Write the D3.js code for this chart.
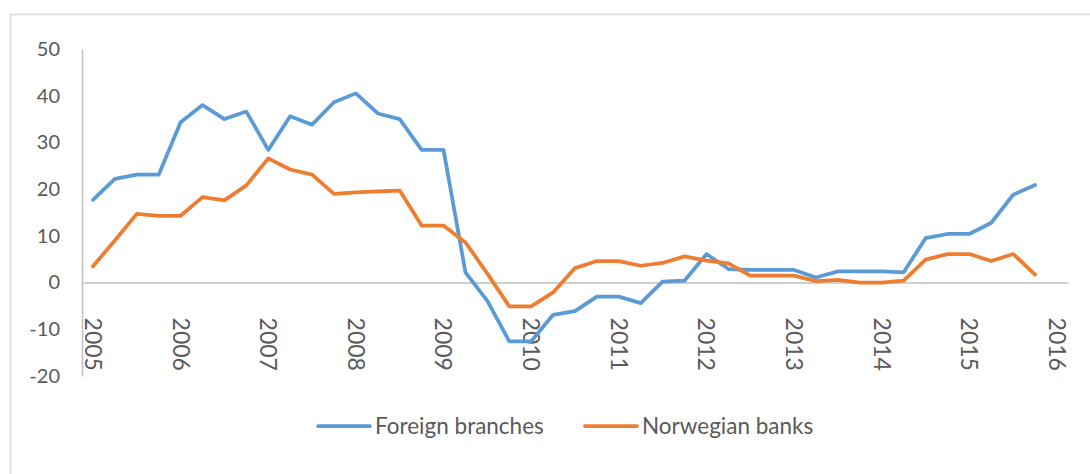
<!DOCTYPE html>
<html><head><meta charset="utf-8">
<script src="https://cdn.jsdelivr.net/npm/d3@7"></script>
<style>html,body{margin:0;padding:0;background:#fff;}svg{display:block;}</style>
</head><body>
<svg id="chart" width="1090" height="474"></svg>
<script>
const years = ["2005","2006","2007","2008","2009","2010","2011","2012","2013","2014","2015","2016"];
const quarters = [];
for (const y of years) for (const q of ["Q1","Q2","Q3","Q4"]) quarters.push(y + q);
const categories = quarters.slice(0, 45); // 2005Q1 .. 2016Q1
const foreignBranches = [17.7,22.2,23.1,23.1,34.3,38.0,35.0,36.6,28.4,35.6,33.8,38.6,40.5,36.2,35.0,28.4,28.4,2.2,-3.9,-12.6,-12.6,-6.9,-6.1,-3.0,-3.0,-4.4,0.2,0.4,6.1,2.9,2.7,2.7,2.7,1.1,2.4,2.4,2.4,2.2,9.5,10.4,10.4,12.8,18.8,20.9];
const norwegianBanks = [3.5,9.0,14.7,14.3,14.3,18.3,17.6,20.8,26.6,24.2,23.1,19.0,19.3,19.5,19.7,12.2,12.2,8.6,1.9,-5.1,-5.1,-2.1,3.1,4.6,4.6,3.6,4.2,5.6,4.7,4.1,1.5,1.5,1.5,0.3,0.6,0.0,0.0,0.4,4.9,6.1,6.1,4.6,6.1,1.7];
const yTicks = [-20,-10,0,10,20,30,40,50];
const seriesNames = ["Foreign branches","Norwegian banks"];
const seriesColors = ["#5B9BD5","#ED7D31"];

const svg = d3.select("#chart");
const font = "Lato, 'Open Sans', sans-serif";
const textColor = "#595959";

svg.append("rect").attr("x",10.5).attr("y",14.5).attr("width",1200).attr("height",600)
  .attr("fill","none").attr("stroke","#d9d9d9").attr("stroke-width",1.5);

const x = d3.scaleBand().domain(categories).range([82,1068]).padding(0);
const y = d3.scaleLinear().domain([-20,50]).range([376,49]);

// y axis
const yAxis = d3.axisLeft(y).tickValues(yTicks).tickSize(0).tickPadding(22).tickFormat(d=>String(d));
const gy = svg.append("g").attr("transform","translate(82,0)").call(yAxis);
gy.select(".domain").attr("stroke","#bfbfbf").attr("stroke-width",1.5);
gy.selectAll("text").attr("font-family",font).attr("font-size",20).attr("fill",textColor);

// x axis at zero
const xAxis = d3.axisBottom(x).tickValues(categories.filter((d,i)=>i%4===0)).tickSize(0).tickFormat(d=>d.slice(0,4));
const gx = svg.append("g").attr("transform",`translate(0,${y(0)})`).call(xAxis);
gx.select(".domain").attr("stroke","#bfbfbf").attr("stroke-width",1.5);
gx.selectAll("text").attr("font-family",font).attr("font-size",23).attr("fill",textColor)
  .attr("text-anchor","start").attr("transform","rotate(90)")
  .attr("x",35).attr("y",0).attr("dy","0.35em");

// lines
const line = d3.line().x((d,i)=>x(categories[i]) + x.bandwidth()/2).y(d=>y(d));
[foreignBranches, norwegianBanks].forEach((s,k)=>{
  svg.append("path").datum(s).attr("d",line).attr("fill","none")
    .attr("stroke",seriesColors[k]).attr("stroke-width",3.75)
    .attr("stroke-linejoin","round").attr("stroke-linecap","round");
});

// legend
const legendX = [318, 585];
seriesNames.forEach((n,k)=>{
  const g = svg.append("g").attr("transform",`translate(${legendX[k]},426)`);
  g.append("line").attr("x1",0).attr("x2",52).attr("y1",0).attr("y2",0)
    .attr("stroke",seriesColors[k]).attr("stroke-width",3.75).attr("stroke-linecap","round");
  g.append("text").attr("x",57).attr("y",0).attr("dy","0.35em").text(n)
    .attr("font-family",font).attr("font-size",22.5).attr("fill",textColor);
});
</script>
</body></html>
